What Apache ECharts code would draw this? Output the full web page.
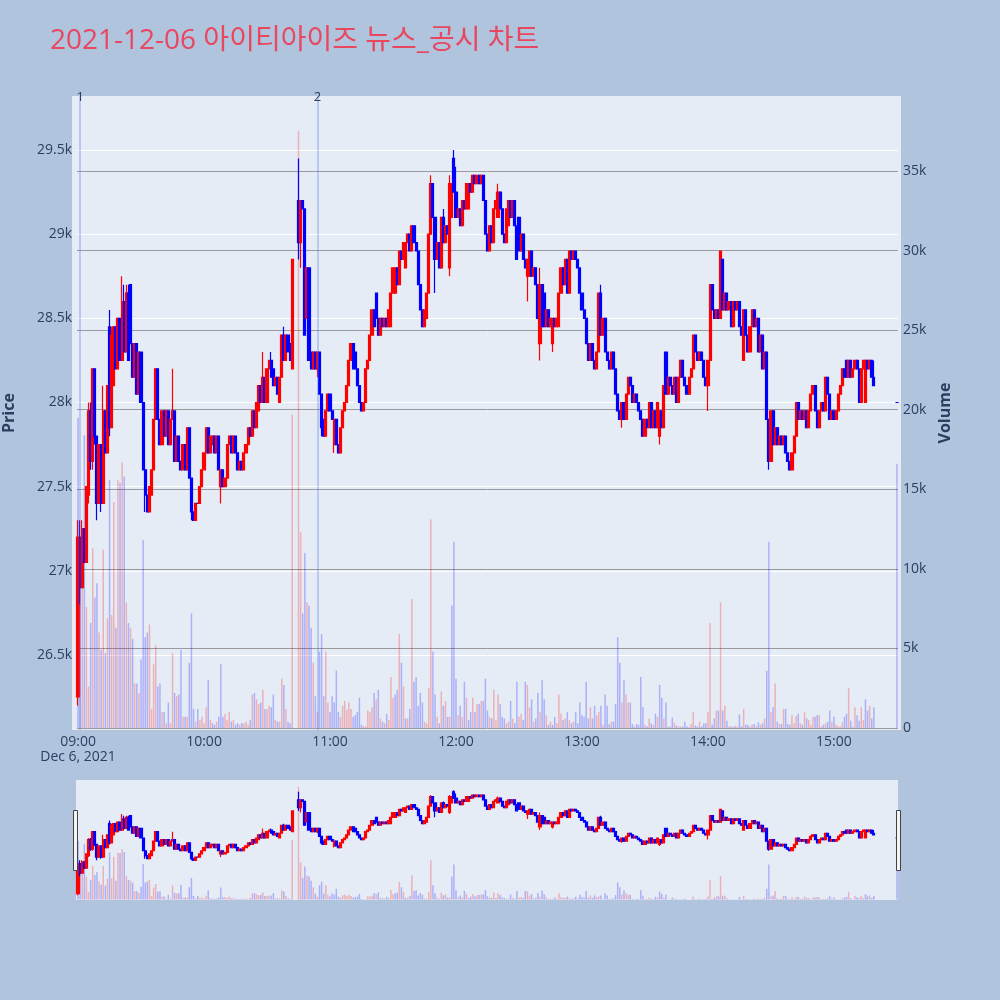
<!DOCTYPE html>
<html>
<head>
<meta charset="utf-8">
<script src="https://cdn.jsdelivr.net/npm/echarts@6/dist/echarts.min.js"></script>
<style>
html,body{margin:0;padding:0;background:#b0c4de;}
#chart{width:1000px;height:1000px;}
</style>
</head>
<body>
<div id="chart"></div>
<script>
// ---------- DATA ----------
const titleText = '2021-12-06 아이티아이즈 뉴스_공시 차트';
const dateLabel = 'Dec 6, 2021';
// news / disclosure markers: [time, label]
const newsMarks = [['09:01', '1'], ['10:54', '2']];
const priceRange = [26054, 29821];
const volumeRange = [-126, 39713];

// rows: [open, close, low, high, volume], one per minute; null = no trade
const candles09 = [
[26250,27200,26200,27300,19500],[27200,26900,26800,27300,12000],[26900,27250,26900,27300,9500],[27250,27050,27050,27250,18400],
[27050,27500,27050,27500,7600],[27450,27950,27400,28000,2600],[27950,27650,27600,28000,6600],[27650,28200,27600,28200,11300],
[28200,27800,27750,28200,8200],[27800,27400,27300,27800,9100],[27400,27750,27400,27750,6000],[27750,27400,27350,27750,4900],
[27400,27950,27400,28100,11200],[27950,27700,27700,27950,4700],[27700,28100,27700,28100,6900],[28450,27850,27800,28550,15600],
[27850,28400,27850,28450,7100],[28100,28450,28100,28450,14200],[28450,28200,28200,28450,6300],[28200,28500,28200,28500,15600],
[28500,28250,28250,28500,15400],[28250,28600,28250,28750,16700],[28600,28300,28300,28700,15800],[28300,28650,28300,28700,7900],
[28650,28250,28250,28700,6600],[28700,28350,28350,28700,6300],[28350,28150,28150,28350,5600],[28150,28350,28150,28350,2800],
[28350,28050,28050,28350,2800],[28050,28300,28050,28300,2200],[28300,28000,28000,28300,4300],[28000,27600,27600,28000,11800],
[27600,27450,27350,27600,5700],[27450,27350,27350,27450,6000],[27350,27500,27350,27500,6500],[27450,27600,27450,27600,1200],
[27600,27900,27600,27900,4000],[27900,28200,27900,28200,5200],[28200,27900,27900,28200,2600],[27900,27750,27750,27900,2800],
[27750,27950,27750,27950,1000],[27950,27800,27800,27950,1000],[27800,27950,27800,27950,300],[27950,27750,27750,27950,1600],
[27750,27900,27750,27900,300],[27900,27950,27900,28200,4700],[27950,27650,27650,27950,2200],[27650,27800,27650,27800,2000],
[27800,27650,27650,27800,2100],[27650,27600,27600,27650,4900],[27600,27750,27600,27750,700],[27750,27600,27600,27750,700],
[27600,27850,27600,27850,700],[27850,27550,27550,27850,4100],[27550,27350,27300,27550,7200],[27350,27300,27300,27350,1200],
[27300,27400,27300,27400,400],[27400,27400,27400,27400,1200],[27400,27500,27400,27500,500],[27500,27600,27500,27600,700]
];
const candles10 = [
[27600,27700,27600,27700,300],[27700,27850,27700,27850,1300],[27850,27700,27700,27850,3000],[27700,27800,27700,27800,500],
[27750,27800,27750,27800,300],[27800,27700,27700,27800,200],[27700,27800,27700,27800,400],[27800,27600,27600,27800,700],
[27500,27600,27400,27600,4000],[27600,27500,27500,27600,700],[27500,27550,27500,27550,900],[27550,27750,27550,27750,500],
[27750,27800,27750,27800,1000],[27800,27700,27700,27800,400],[27700,27800,27700,27800,500],[27800,27700,27700,27800,200],
[27700,27600,27600,27700,300],[27600,27650,27600,27650,200],[27650,27600,27600,27650,300],[27600,27700,27600,27700,300],
[27700,27750,27700,27750,400],[27750,27850,27750,27850,200],[27850,27800,27800,27850,500],[27800,27950,27800,27950,2100],
[27950,27850,27850,27950,2200],[27850,28000,27850,28000,1800],[27950,28100,27950,28100,1500],[28100,28000,28000,28100,1600],
[28000,28150,28000,28300,2400],[28150,28000,28000,28150,1200],[28000,28200,28000,28200,1200],[28200,28250,28200,28250,1400],
[28250,28150,28150,28300,1300],[28200,28100,28100,28200,2100],[28100,28150,28100,28150,500],[28150,28050,28050,28150,400],
[28000,28150,28000,28150,400],[28150,28400,28150,28400,3100],[28400,28250,28250,28450,2700],[28250,28400,28250,28400,1200],
[28400,28300,28300,28400,400],[28350,28250,28250,28350,300],[28200,28850,28200,28850,19700],null,
null,[29200,28950,28850,29450,37500],[28950,29200,28800,29200,12300],[29200,29150,29150,29200,7200],
[29150,28400,28400,29150,11000],[28500,28800,28500,28800,7900],[28800,28250,28250,28800,7700],[28300,28200,28200,28300,6300],
[28200,28300,28200,28300,4100],[28300,28200,28200,28300,2000],[28200,28300,28150,28300,1000],[28300,28050,28050,28300,4800],
[28050,27850,27800,28050,5900],[27900,27800,27800,27900,2000],[27800,27950,27800,27950,4800],[27950,28050,27950,28050,1600]
];
const candles11 = [
[28050,27950,27950,28050,1000],[27950,27900,27900,27950,2000],[27750,27900,27700,27900,1600],[27900,27750,27750,27900,3600],
[27750,27700,27700,27750,1000],[27700,27850,27700,27850,700],[27850,27950,27850,27950,1400],[27950,28000,27950,28000,1700],
[28000,28100,28000,28100,1150],[28100,28250,28100,28250,1600],[28250,28350,28250,28350,1200],[28350,28200,28200,28350,700],
[28300,28200,28200,28300,800],[28200,28100,28100,28200,1000],[28100,28000,28000,28100,1900],[28000,27950,27950,28000,200],
[27950,28000,27950,28000,100],[28000,28200,28000,28200,100],[28200,28250,28200,28250,1100],[28250,28400,28250,28400,1000],
[28400,28550,28400,28550,1300],[28550,28450,28450,28550,2200],[28650,28500,28500,28650,1800],[28500,28400,28400,28500,2400],
[28400,28500,28400,28500,600],[28500,28450,28450,28500,400],[28450,28500,28450,28500,300],[28500,28450,28450,28500,900],
[28450,28550,28450,28550,500],[28450,28650,28450,28650,3200],[28650,28800,28650,28800,1900],[28650,28800,28650,28800,2100],
[28800,28700,28700,28800,2400],[28700,28900,28700,28900,5900],[28900,28850,28850,28900,4100],[28850,28950,28850,28950,2600],
[28800,28950,28800,28950,600],[28950,29000,28950,29000,600],[29000,28900,28900,29000,1200],[28900,29050,28900,29050,8100],
[29050,28950,28950,29050,2900],[28950,28900,28900,28950,3200],[28900,28700,28700,28900,1400],[28700,28550,28550,28700,2200],
[28550,28450,28450,28550,1600],[28450,28550,28450,28550,400],[28500,28650,28500,28650,300],[28650,29000,28650,29000,2500],
[29000,29300,29000,29350,13100],[29300,29100,29100,29300,4800],[29100,28850,28650,29100,2100],[28850,28950,28850,28950,700],
[28950,28800,28800,28950,300],[28800,29100,28800,29100,2300],[29100,28950,28950,29150,1400],[28950,29050,28950,29050,1700],
[29050,29000,29000,29050,700],[28800,29300,28750,29350,700],[29100,29300,29100,29300,7700],[29450,29250,29250,29500,11700]
];
const candles12 = [
[29250,29100,29100,29400,3100],[29100,29150,29100,29150,800],[29150,29050,29050,29150,1400],[29050,29200,29050,29200,700],
[29200,29150,29150,29200,2900],[29150,29300,29150,29300,1900],[29150,29300,29150,29300,500],[29300,29250,29250,29300,1000],
[29250,29350,29250,29350,1900],[29350,29300,29300,29350,1000],[29300,29350,29300,29350,1500],[29350,29300,29300,29350,1500],
[29300,29350,29300,29350,1700],[29350,29200,29200,29350,1700],[29200,29000,29000,29200,3100],[29000,28900,28900,29000,1100],
[28900,29050,28900,29050,700],[29050,28950,28950,29050,600],[28950,29150,28950,29150,2400],[29150,29200,29150,29200,500],
[29100,29250,29100,29300,2100],[29250,29150,29150,29250,1500],[29150,29000,29000,29150,700],[29000,28950,28950,29000,600],
[28950,29150,28950,29150,300],[29050,29200,29050,29200,400],[29200,29100,29100,29200,1700],[29100,29200,29100,29200,600],
[29200,29050,29050,29200,300],[29050,28850,28850,29050,2900],[29100,28900,28900,29100,700],[28900,29000,28900,29000,900],
[29000,28850,28850,29000,500],[28850,28800,28800,28850,2900],[28750,28850,28600,28850,2700],[28750,28900,28750,28900,1300],
[28900,28750,28750,28900,1800],[28750,28800,28750,28800,400],[28800,28700,28700,28800,600],[28700,28500,28500,28700,2200],
[28350,28700,28250,28800,1000],[28700,28450,28450,28700,3000],[28650,28450,28450,28650,1800],[28450,28550,28450,28550,800],
[28550,28450,28450,28550,200],[28450,28500,28450,28500,400],[28350,28500,28300,28500,200],[28500,28450,28450,28500,700],
[28450,28500,28450,28500,300],[28450,28650,28450,28650,2100],[28650,28800,28650,28800,900],[28800,28700,28700,28800,500],
[28700,28850,28700,28850,600],[28850,28650,28650,28850,1000],[28650,28900,28650,28900,500],[28900,28850,28850,28900,300],
[28850,28900,28850,28900,400],[28900,28850,28850,28900,1000],[28850,28800,28800,28850,300],[28800,28650,28650,28800,1600]
];
const candles13 = [
[28650,28550,28550,28650,800],[28550,28500,28500,28550,700],[28500,28350,28350,28500,2900],[28350,28250,28250,28350,600],
[28250,28350,28250,28350,1300],[28350,28250,28250,28350,600],[28250,28200,28200,28250,1400],[28200,28300,28200,28300,800],
[28300,28650,28300,28650,1000],[28650,28400,28400,28700,1400],[28400,28500,28400,28500,200],[28500,28300,28300,28500,2100],
[28300,28250,28250,28300,1400],[28250,28200,28200,28250,250],[28200,28300,28200,28300,400],[28300,28200,28200,28300,400],
[28200,28050,28050,28200,1500],[28050,27950,27950,28050,5700],[27950,27900,27900,27950,4100],[27900,28000,27850,28000,1600],
[28000,27900,27900,28000,3000],[27900,28050,27900,28050,2100],[28050,28150,28050,28150,1600],[28150,28100,28100,28150,1600],
[28100,28000,28000,28100,250],[28000,28050,28000,28050,100],[28050,28000,28000,28050,250],[28000,27950,27950,28000,200],
[27950,27900,27900,27950,3200],[27900,27800,27800,27900,1300],[27800,27900,27800,27900,200],[27900,27850,27850,27900,100],
[27850,28000,27850,28000,600],[28000,27850,27850,28000,300],[27850,27950,27850,27950,200],[27950,27850,27850,27950,900],
[27850,28000,27850,28000,700],[27800,27950,27750,27950,2700],[27950,27850,27850,27950,1900],[27850,28100,27850,28100,600],
[28300,28050,28050,28300,1600],[28050,28150,28050,28150,100],[28150,28100,28100,28150,100],[28100,28050,28050,28100,650],
[28050,28150,28050,28150,350],[28150,28000,28000,28150,150],[28000,28150,28000,28150,100],[28150,28250,28150,28250,100],
[28250,28150,28150,28250,100],[28150,28100,28100,28150,400],[28100,28050,28050,28100,100],[28050,28150,28050,28150,50],
[28150,28200,28150,28200,250],[28200,28400,28200,28400,1000],[28400,28300,28300,28400,150],[28300,28250,28250,28300,100],
[28250,28300,28250,28300,400],[28300,28250,28250,28300,100],[28250,28150,28150,28250,300],[28150,28100,28100,28150,300]
];
const candles14 = [
[28100,28250,27950,28250,1000],[28250,28700,28250,28700,6600],[28700,28550,28550,28700,200],[28550,28500,28500,28550,600],
[28500,28550,28500,28550,1100],[28550,28500,28500,28550,1100],[28500,28900,28500,28900,7900],[28850,28550,28550,28850,1100],
[28550,28650,28550,28650,1400],[28650,28550,28550,28650,450],[28550,28600,28550,28600,100],[28600,28450,28450,28600,100],
[28450,28600,28450,28600,100],[28600,28550,28550,28600,100],[28550,28600,28550,28600,100],[28600,28450,28450,28600,850],
[28450,28400,28400,28450,100],[28250,28550,28250,28550,1200],[28550,28400,28400,28550,200],[28400,28300,28300,28400,200],
[28300,28450,28300,28450,100],[28450,28550,28450,28550,200],[28550,28450,28450,28550,250],[28450,28500,28450,28500,100],
[28500,28300,28300,28500,350],[28300,28400,28300,28400,200],[28400,28200,28200,28400,300],[28200,28300,28200,28300,600],
[28300,27900,27900,28300,3600],[27900,27650,27600,27900,11700],[27650,27950,27650,27950,1000],[27950,27750,27750,27950,1300],
[27750,27850,27750,27850,2800],[27850,27750,27750,27850,400],[27750,27800,27750,27800,250],[27800,27750,27750,27800,250],
[27750,27800,27750,27800,1200],[27800,27700,27700,27800,1200],[27700,27650,27650,27700,250],[27650,27600,27600,27650,200],
[27600,27700,27600,27700,800],[27700,27800,27700,27800,300],[27800,28000,27800,28000,750],[28000,27900,27900,28000,900],
[27900,27950,27900,27950,300],[27950,27900,27900,27950,200],[27900,27950,27900,27950,1000],[27950,27850,27850,27950,600],
[27850,27950,27850,27950,500],[27950,28050,27950,28050,200],[28050,28100,28050,28100,700],[28100,27950,27950,28100,700],
[27950,27850,27850,27950,800],[27850,27950,27850,27950,800],[27950,28000,27950,28000,100],[28000,27950,27950,28000,200],
[27950,28150,27950,28150,300],[28150,28050,28050,28150,400],[28050,27900,27900,28050,1100],[27900,27950,27900,27950,400]
];
const candles15 = [
[27950,27900,27900,27950,700],[27900,27950,27900,27950,200],[27950,28050,27950,28050,100],[28050,28100,28050,28100,100],
[28100,28200,28100,28200,350],[28200,28150,28150,28200,700],[28250,28150,28150,28250,900],[28150,28250,28150,28250,2500],
[28250,28150,28150,28250,450],[28150,28200,28150,28200,100],[28200,28250,28200,28250,1300],[28250,28200,28200,28250,800],
[28200,28000,28000,28200,450],[28000,28200,28000,28200,1300],[28200,28250,28200,28250,500],[28000,28250,28000,28250,1800],
[28250,28200,28200,28250,1100],[28200,28250,28200,28250,1400],[28250,28150,28150,28250,600],[28150,28100,28100,28250,1300],
null,null,null,null,null,null,null,null,null,null,
[28000,28000,28000,28000,16600]
];

// ---------- BUILD ----------
const rows = [].concat(candles09, candles10, candles11, candles12, candles13, candles14, candles15);
const minutes = [];
for (let i = 0; i < rows.length; i++) {
  const h = 9 + Math.floor(i / 60), m = i % 60;
  minutes.push((h < 10 ? '0' : '') + h + ':' + (m < 10 ? '0' : '') + m);
}
const UP = '#ff0000', DOWN = '#0000ff';
const VOL_UP = 'rgba(255,0,0,0.25)', VOL_DOWN = 'rgba(0,0,255,0.25)';
const candleData = rows.map(r => r ? [r[0], r[1], r[2], r[3]] : ['-', '-', '-', '-']);
let prevClose = null;
const volumeData = rows.map(r => {
  if (!r) return '-';
  const up = prevClose !== null && r[1] > prevClose;
  prevClose = r[1];
  return { value: r[4], itemStyle: { color: up ? VOL_UP : VOL_DOWN } };
});

const FONT = "'Open Sans', 'Noto Sans CJK KR', sans-serif";
const AXIS_COLOR = '#2a3f5f';
const kfmt = v => v === 0 ? '0' : (v / 1000) + 'k';

const chart = echarts.init(document.getElementById('chart'), null, { renderer: 'canvas' });

const candleStyle = {
  color: UP, color0: DOWN, borderColor: UP, borderColor0: DOWN, borderColorDoji: DOWN, borderWidth: 1.2
};

chart.setOption({
  animation: false,
  backgroundColor: '#b0c4de',
  textStyle: { fontFamily: FONT },
  title: {
    text: titleText, left: 50, top: 27, padding: 0,
    textStyle: { color: '#e8475f', fontSize: 28, fontWeight: 'normal', fontFamily: FONT }
  },
  graphic: [
    { type: 'rect', z: -10, shape: { x: 72, y: 96, width: 829, height: 634 }, style: { fill: '#e5ecf6' } },
    { type: 'rect', z: -10, shape: { x: 76, y: 780, width: 822, height: 120 }, style: { fill: '#e5ecf6' } },
    { type: 'rect', z: 100, shape: { x: 73.5, y: 810.5, width: 4, height: 60 }, style: { fill: '#f4f4f4', stroke: '#444', lineWidth: 1 } },
    { type: 'rect', z: 100, shape: { x: 896.5, y: 810.5, width: 4, height: 60 }, style: { fill: '#f4f4f4', stroke: '#444', lineWidth: 1 } }
  ],
  grid: [
    { left: 77, right: 102, top: 96, bottom: 270, containLabel: false, outerBoundsMode: 'none' },
    { left: 77, right: 102, top: 780, height: 120, containLabel: false, outerBoundsMode: 'none' }
  ],
  xAxis: [
    {
      type: 'category', gridIndex: 0, data: minutes, boundaryGap: true,
      axisLine: { show: false }, axisTick: { show: false }, splitLine: { show: false },
      axisLabel: {
        interval: (idx) => idx % 60 === 0,
        formatter: (val, idx) => idx === 0 ? val + '\n' + dateLabel : val,
        color: AXIS_COLOR, fontSize: 14, margin: 5, lineHeight: 15, fontFamily: FONT
      }
    },
    {
      type: 'category', gridIndex: 1, data: minutes, boundaryGap: true,
      axisLine: { show: false }, axisTick: { show: false }, axisLabel: { show: false }, splitLine: { show: false }
    }
  ],
  yAxis: [
    {
      type: 'value', gridIndex: 0, position: 'left', min: priceRange[0], max: priceRange[1], splitNumber: 7,
      name: 'Price', nameLocation: 'middle', nameGap: 60,
      nameTextStyle: { color: AXIS_COLOR, fontSize: 16, fontWeight: 'bold', fontFamily: FONT },
      axisLine: { show: false }, axisTick: { show: false },
      axisLabel: { formatter: kfmt, color: AXIS_COLOR, fontSize: 14, margin: 5, showMinLabel: false, showMaxLabel: false, fontFamily: FONT },
      splitLine: { show: true, showMinLine: false, showMaxLine: false, lineStyle: { color: '#ffffff', width: 1 } }
    },
    {
      type: 'value', gridIndex: 0, position: 'right', min: volumeRange[0], max: volumeRange[1], splitNumber: 8,
      name: 'Volume', nameLocation: 'middle', nameGap: 38,
      nameTextStyle: { color: AXIS_COLOR, fontSize: 16, fontWeight: 'bold', fontFamily: FONT },
      axisLine: { show: false }, axisTick: { show: false },
      axisLabel: { formatter: kfmt, color: AXIS_COLOR, fontSize: 14, margin: 5, showMinLabel: false, showMaxLabel: false, fontFamily: FONT },
      splitLine: { show: true, showMinLine: false, showMaxLine: false, lineStyle: { color: '#9a9a9e', width: 1 } }
    },
    {
      type: 'value', gridIndex: 1, min: priceRange[0], max: priceRange[1],
      axisLine: { show: false }, axisTick: { show: false }, axisLabel: { show: false }, splitLine: { show: false }
    },
    {
      type: 'value', gridIndex: 1, min: volumeRange[0], max: volumeRange[1],
      axisLine: { show: false }, axisTick: { show: false }, axisLabel: { show: false }, splitLine: { show: false }
    }
  ],
  series: [
    {
      type: 'bar', name: 'Volume', xAxisIndex: 0, yAxisIndex: 1, data: volumeData,
      barWidth: 1.5, z: 2, silent: true
    },
    {
      type: 'candlestick', name: 'Price', xAxisIndex: 0, yAxisIndex: 0, data: candleData,
      barWidth: 2.6, barMaxWidth: 3, z: 3, itemStyle: candleStyle, silent: true,
      markLine: {
        silent: true, symbol: ['none', 'none'], animation: false,
        lineStyle: { color: 'rgba(80,120,230,0.3)', width: 2, type: 'solid' },
        label: { show: true, position: 'end', distance: -8, formatter: '{b}', color: AXIS_COLOR, fontSize: 13, fontFamily: FONT },
        data: newsMarks.map(m => ({ xAxis: m[0], name: m[1] }))
      }
    },
    {
      type: 'bar', xAxisIndex: 1, yAxisIndex: 3, data: volumeData, barWidth: 1.5, z: 2, silent: true
    },
    {
      type: 'candlestick', xAxisIndex: 1, yAxisIndex: 2, data: candleData, barWidth: 2.6, barMaxWidth: 3, z: 3,
      itemStyle: candleStyle, silent: true
    }
  ]
});
</script>
</body>
</html>
